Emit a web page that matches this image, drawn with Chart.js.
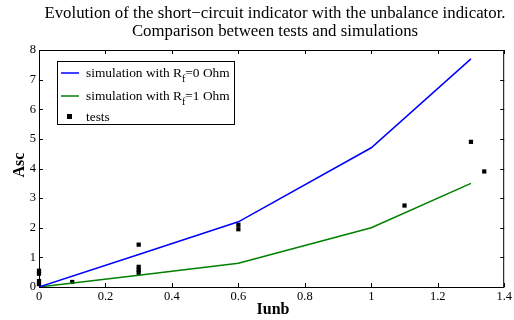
<!DOCTYPE html>
<html>
<head>
<meta charset="utf-8">
<script src="https://cdn.jsdelivr.net/npm/chart.js@4/dist/chart.umd.min.js"></script>
<style>
  html, body { margin: 0; padding: 0; background: #fff; }
</style>
</head>
<body>
<canvas id="c" width="514" height="320"></canvas>
<script>
// simulations
const simIunb = [0, 0.3, 0.6, 1.0, 1.3];
const ascRf0 = [0, 1.1, 2.2, 4.7, 7.7];
const ascRf1 = [0, 0.4, 0.8, 2.0, 3.5];
// tests
const testIunb = [0, 0, 0, 0, 0.1, 0.3, 0.3, 0.3, 0.3, 0.6, 0.6, 1.1, 1.3, 1.34];
const testAsc = [0.55, 0.45, 0.2, 0.1, 0.17, 1.43, 0.68, 0.58, 0.48, 2.1, 1.95, 2.75, 4.9, 3.9];
// ticks
const xTicks = [0, 0.2, 0.4, 0.6, 0.8, 1, 1.2, 1.4];
const yTicks = [0, 1, 2, 3, 4, 5, 6, 7, 8];

const serif = "'Liberation Serif', 'Times New Roman', serif";
const toPoints = (xs, ys) => xs.map((x, i) => ({ x: x, y: ys[i] }));

// cadre, petits traits vers l'intérieur, titres et légende
const decor = {
  id: 'decor',
  afterDraw(chart) {
    const ctx = chart.ctx;
    const a = chart.chartArea;
    const sx = chart.scales.x, sy = chart.scales.y;
    ctx.save();
    ctx.strokeStyle = '#000';
    ctx.lineWidth = 1;
    ctx.strokeRect(a.left + 0.5, a.top + 0.5, a.right - a.left - 1, a.bottom - a.top);
    ctx.beginPath();
    xTicks.forEach(v => {
      const px = Math.round(sx.getPixelForValue(v)) + 0.5;
      ctx.moveTo(px, a.bottom); ctx.lineTo(px, a.bottom - 4);
      ctx.moveTo(px, a.top); ctx.lineTo(px, a.top + 4);
    });
    yTicks.forEach(v => {
      const py = Math.round(sy.getPixelForValue(v)) + 0.5;
      ctx.moveTo(a.left, py); ctx.lineTo(a.left + 4, py);
      ctx.moveTo(a.right, py); ctx.lineTo(a.right - 4, py);
    });
    ctx.stroke();

    // titre
    ctx.fillStyle = '#000';
    ctx.textAlign = 'center';
    ctx.textBaseline = 'middle';
    ctx.font = '16.8px ' + serif;
    ctx.fillText('Evolution of the short\u2212circuit indicator with the unbalance indicator.', 275, 14);
    ctx.fillText('Comparison between tests and simulations', 275, 32);

    // titres des axes
    ctx.font = 'bold 16px ' + serif;
    ctx.fillText('Iunb', 273, 310);
    ctx.save();
    ctx.translate(20, 165);
    ctx.rotate(-Math.PI / 2);
    ctx.fillText('Asc', 0, 0);
    ctx.restore();

    // légende
    const lx = 57.5, ly = 61.5, lw = 177, lh = 63;
    ctx.fillStyle = '#fff';
    ctx.fillRect(lx, ly, lw, lh);
    ctx.strokeRect(lx, ly, lw, lh);
    const rows = [
      { color: chart.data.datasets[0].borderColor, text: '0 Ohm', y: 73 },
      { color: chart.data.datasets[1].borderColor, text: '1 Ohm', y: 96 }
    ];
    const legendFont = '13.4px ' + serif;
    ctx.textAlign = 'left';
    ctx.font = legendFont;
    rows.forEach(r => {
      ctx.strokeStyle = r.color;
      ctx.lineWidth = 1.5;
      ctx.beginPath();
      ctx.moveTo(61, r.y); ctx.lineTo(79, r.y);
      ctx.stroke();
      ctx.fillStyle = '#000';
      const t = 'simulation with R';
      ctx.fillText(t, 86, r.y);
      const w = ctx.measureText(t).width;
      ctx.font = '10px ' + serif;
      ctx.fillText('f', 86 + w, r.y + 6);
      const fw = ctx.measureText('f').width;
      ctx.font = legendFont;
      ctx.fillText('=' + r.text, 86 + w + fw, r.y);
    });
    ctx.fillStyle = '#000';
    ctx.fillRect(67, 114, 5, 5);
    ctx.fillText('tests', 86, 117);
    ctx.restore();
  }
};

new Chart(document.getElementById('c'), {
  type: 'scatter',
  data: {
    datasets: [
      {
        label: 'simulation with Rf=0 Ohm',
        data: toPoints(simIunb, ascRf0),
        showLine: true,
        borderColor: '#0000ff',
        borderWidth: 1.5,
        pointRadius: 0,
        fill: false
      },
      {
        label: 'simulation with Rf=1 Ohm',
        data: toPoints(simIunb, ascRf1),
        showLine: true,
        borderColor: '#008000',
        borderWidth: 1.5,
        pointRadius: 0,
        fill: false
      },
      {
        label: 'tests',
        data: toPoints(testIunb, testAsc),
        showLine: false,
        clip: false,
        pointStyle: 'rect',
        pointRadius: 3,
        backgroundColor: '#000',
        borderColor: '#000',
        borderWidth: 0
      }
    ]
  },
  options: {
    responsive: false,
    animation: false,
    devicePixelRatio: 1,
    layout: { padding: { top: 50, right: 7, left: 0, bottom: 0 } },
    plugins: {
      legend: { display: false },
      title: { display: false },
      tooltip: { enabled: false }
    },
    scales: {
      x: {
        type: 'linear',
        min: 0,
        max: 1.4,
        afterBuildTicks: s => { s.ticks = xTicks.map(v => ({ value: v })); },
        afterFit: s => { s.height = 33; },
        grid: { display: false, drawTicks: false },
        border: { display: false },
        ticks: {
          color: '#000',
          padding: 2,
          font: { family: serif, size: 12.5 },
          callback: v => String(v)
        }
      },
      y: {
        type: 'linear',
        min: 0,
        max: 8,
        afterBuildTicks: s => { s.ticks = yTicks.map(v => ({ value: v })); },
        afterFit: s => { s.width = 39; },
        grid: { display: false, drawTicks: false },
        border: { display: false },
        ticks: {
          color: '#000',
          padding: 3,
          font: { family: serif, size: 12.5 },
          callback: v => String(v)
        }
      }
    }
  },
  plugins: [decor]
});
</script>
</body>
</html>
